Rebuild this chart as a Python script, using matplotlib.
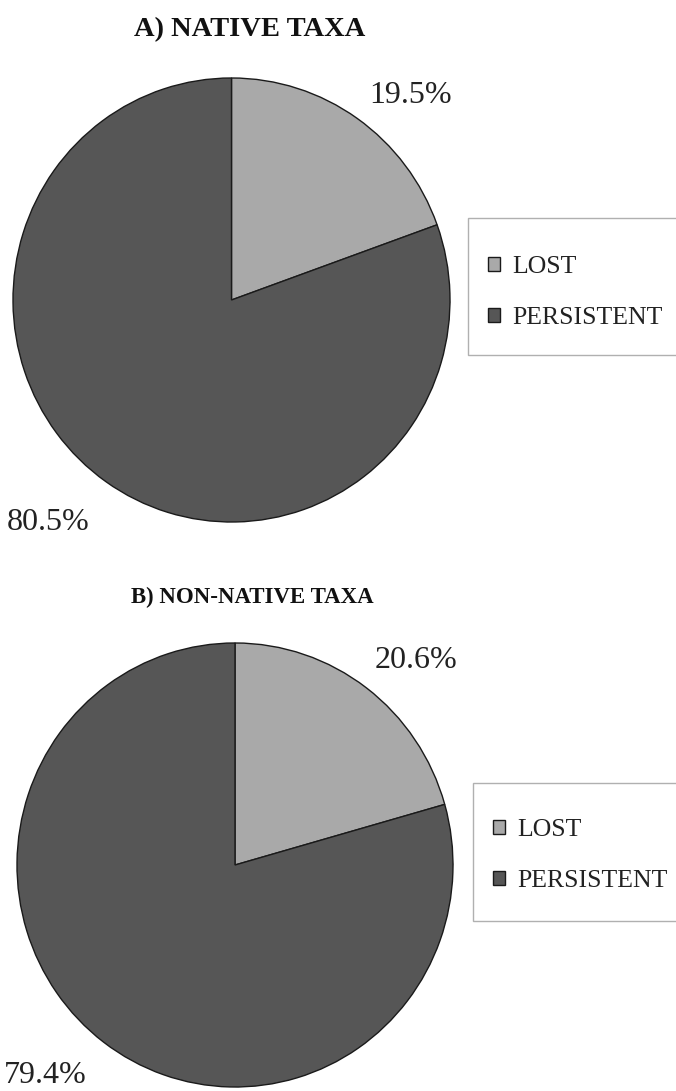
import matplotlib
matplotlib.use("Agg")
import matplotlib.pyplot as plt
from matplotlib.patches import Rectangle

categories = ["LOST", "PERSISTENT"]
native_values = [19.5, 80.5]
nonnative_values = [20.6, 79.4]
titles = ["A) NATIVE TAXA", "B) NON-NATIVE TAXA"]

plt.rcParams['font.family'] = ['Liberation Serif', 'DejaVu Serif']

W, H = 676, 1091
fig = plt.figure(figsize=(W / 100, H / 100), dpi=100)
colors = ["#a9a9a9", "#565656"]


def px_axes(left, top, right, bottom):
    return fig.add_axes([left / W, 1 - bottom / H, (right - left) / W, (bottom - top) / H])


panels = [
    dict(vals=native_values, title=titles[0], tsize=20.5, box=(13, 78, 450, 522), title_xy=(250, 30),
         legbox=(468, 218, 700, 355), leg=(488, 256), lab=[(0.82, 0.92), (-0.84, -1.0)]),
    dict(vals=nonnative_values, title=titles[1], tsize=16.5, box=(17, 643, 453, 1087), title_xy=(252, 597),
         legbox=(473, 783, 700, 921), leg=(493, 819), lab=[(0.83, 0.92), (-0.87, -0.95)]),
]

for p in panels:
    ax = px_axes(*p["box"])
    wedges, _ = ax.pie(p["vals"], colors=colors, startangle=90, counterclock=False,
                       wedgeprops=dict(edgecolor="#1a1a1a", linewidth=1.0))
    ax.set_aspect("auto")
    ax.set_xlim(-1, 1)
    ax.set_ylim(-1, 1)
    ax.axis("off")
    for (lx, ly), v in zip(p["lab"], p["vals"]):
        ax.text(lx, ly, f"{v:.1f}%", fontsize=23, ha="center", va="center", color="#222222",
                clip_on=False)
    fig.text(p["title_xy"][0] / W, 1 - p["title_xy"][1] / H, p["title"], fontsize=p["tsize"],
             fontweight="bold", ha="center", va="center", color="#111111")
    l, t, r, b = p["legbox"]
    fig.patches.append(Rectangle((l / W, 1 - b / H), (r - l) / W, (b - t) / H,
                                 transform=fig.transFigure, facecolor="white",
                                 edgecolor="#b0b0b0", linewidth=1.0, zorder=1))
    leg = fig.legend(wedges, categories, loc="upper left",
                     bbox_to_anchor=(p["leg"][0] / W, 1 - p["leg"][1] / H),
                     fontsize=18.5, frameon=False,
                     handlelength=0.48, handleheight=0.48, handletextpad=0.45,
                     labelspacing=1.13, borderpad=0, borderaxespad=0)
    leg.set_zorder(2)
    for t_ in leg.get_texts():
        t_.set_color("#222222")

fig.savefig("out.png", dpi=100)
